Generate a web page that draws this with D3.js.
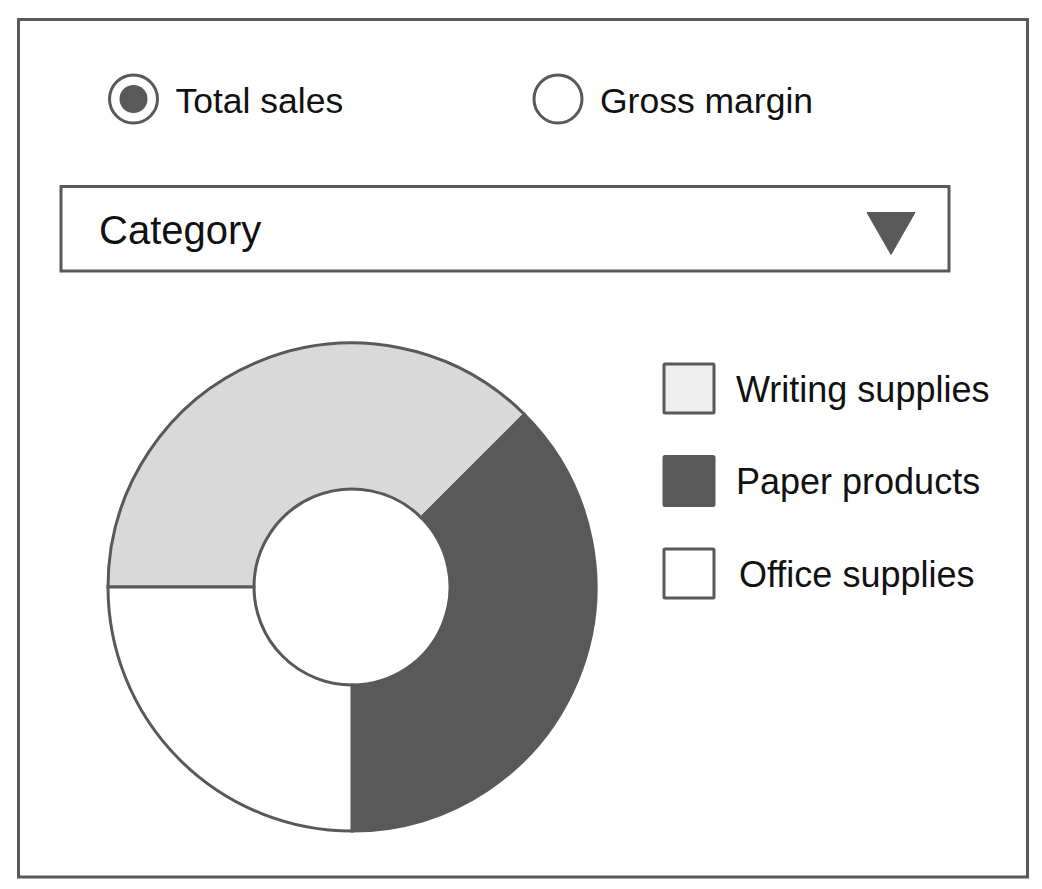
<!DOCTYPE html>
<html>
<head>
<meta charset="utf-8">
<script src="https://cdn.jsdelivr.net/npm/d3@7"></script>
<style>
  body { margin: 0; background: #fff; }
  text { font-family: "Liberation Sans", Arial, sans-serif; fill: #111; }
</style>
</head>
<body>
<div id="chart_div"></div>
<script>
// chart values
const categories = ["Writing supplies", "Paper products", "Office supplies"];
const shares = [37.5, 37.5, 25];
const measures = ["Total sales", "Gross margin"];
const selectedMeasure = "Total sales";
const dropdownLabel = "Category";

const WIDTH = 1042;
const HEIGHT = 889;
const INK = "#595959";
const STROKE_W = 3;

const pieColor = d3.scaleOrdinal()
    .domain(categories)
    .range(["#d9d9d9", INK, "#ffffff"]);

const swatchColor = d3.scaleOrdinal()
    .domain(categories)
    .range(["#eeeeee", INK, "#ffffff"]);

var svg = d3.select("#chart_div")
    .append("svg")
    .attr("width", WIDTH)
    .attr("height", HEIGHT);

// outer frame
svg.append("rect")
    .attr("x", 18.5)
    .attr("y", 19.5)
    .attr("width", 1009)
    .attr("height", 857.5)
    .attr("fill", "none")
    .attr("stroke", INK)
    .attr("stroke-width", STROKE_W);

// radio buttons
var radioX = d3.scalePoint().domain(measures).range([133.5, 558]);
var radioY = 99;

var radios = svg.append("g")
    .selectAll("g")
    .data(measures)
    .enter()
    .append("g")
    .attr("transform", d => "translate(" + radioX(d) + "," + radioY + ")");

radios.append("circle")
    .attr("r", 24)
    .attr("fill", "#fff")
    .attr("stroke", INK)
    .attr("stroke-width", STROKE_W);

radios.filter(d => d === selectedMeasure)
    .append("circle")
    .attr("r", 14)
    .attr("fill", INK);

radios.append("text")
    .attr("x", 42)
    .attr("y", 13.5)
    .style("font-size", "35.5px")
    .text(d => d);

// dropdown
var dd = { x: 61, y: 186.5, w: 888, h: 84.5 };
svg.append("rect")
    .attr("x", dd.x)
    .attr("y", dd.y)
    .attr("width", dd.w)
    .attr("height", dd.h)
    .attr("fill", "#fff")
    .attr("stroke", INK)
    .attr("stroke-width", STROKE_W);

svg.append("text")
    .attr("x", dd.x + 38)
    .attr("y", dd.y + 57)
    .style("font-size", "40px")
    .text(dropdownLabel);

// dropdown arrow
var arrowCx = dd.x + dd.w - 58, arrowTop = dd.y + 26, arrowHalf = 24, arrowH = 42;
svg.append("path")
    .attr("d", d3.line()([
        [arrowCx - arrowHalf, arrowTop],
        [arrowCx + arrowHalf, arrowTop],
        [arrowCx, arrowTop + arrowH]
    ]) + "Z")
    .attr("fill", INK)
    .attr("stroke", INK)
    .attr("stroke-width", 1)
    .attr("stroke-linejoin", "round");

// donut
var pie = d3.pie()
    .sort(null)
    .startAngle(-Math.PI / 2)
    .endAngle(3 * Math.PI / 2)
    .value(d => d.value);

var arc = d3.arc()
    .innerRadius(98)
    .outerRadius(244);

var pieData = pie(categories.map((c, i) => ({ name: c, value: shares[i] })));

svg.append("g")
    .attr("transform", "translate(352,587)")
    .selectAll("path")
    .data(pieData)
    .enter()
    .append("path")
    .attr("d", arc)
    .attr("fill", d => pieColor(d.data.name))
    .attr("stroke", INK)
    .attr("stroke-width", STROKE_W)
    .attr("stroke-linejoin", "miter");

// legend
var legendY = d3.scalePoint().domain(categories).range([388.5, 573.5]);

var legend = svg.append("g")
    .selectAll("g")
    .data(categories)
    .enter()
    .append("g")
    .attr("transform", d => "translate(689," + legendY(d) + ")");

legend.append("rect")
    .attr("x", -25)
    .attr("y", -24.5)
    .attr("width", 50)
    .attr("height", 49)
    .attr("rx", 1)
    .attr("fill", d => swatchColor(d))
    .attr("stroke", INK)
    .attr("stroke-width", STROKE_W);

legend.append("text")
    .attr("x", (d, i) => i === 2 ? 50 : 47)
    .attr("y", 13)
    .style("font-size", "36px")
    .text(d => d);
</script>
</body>
</html>
